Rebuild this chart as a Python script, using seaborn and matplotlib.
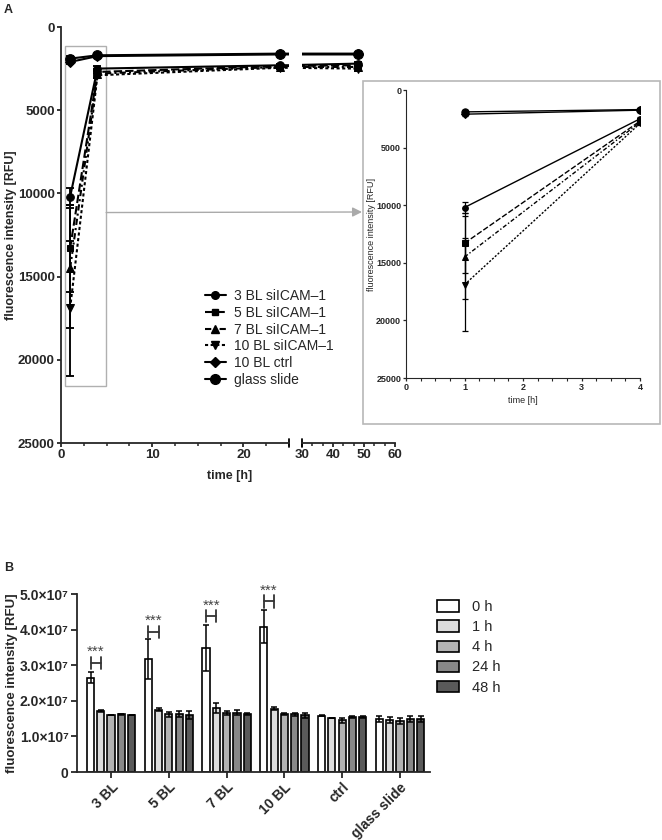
import matplotlib
matplotlib.use("Agg")
import matplotlib.pyplot as plt
import seaborn as sns
import numpy as np
import pandas as pd
from matplotlib.patches import Rectangle, Patch, ConnectionPatch
from matplotlib.lines import Line2D
from matplotlib.ticker import MultipleLocator, FixedLocator

sns.set_style("ticks")
plt.rcParams['font.family'] = ['Liberation Sans', 'DejaVu Sans']

# ---- panel A data (RFU, y axis inverted) ----
times = [1, 4, 24, 48]
series_names = ["3 BL siICAM\u20131", "5 BL siICAM\u20131", "7 BL siICAM\u20131",
                "10 BL siICAM\u20131", "10 BL ctrl", "glass slide"]
rfu_3bl = [10200, 2500, 2300, 2200]
rfu_5bl = [13300, 2700, 2350, 2300]
rfu_7bl = [14500, 2800, 2400, 2400]
rfu_10bl = [16900, 2900, 2450, 2500]
rfu_ctrl = [2100, 1750, 1650, 1650]
rfu_glass = [1900, 1700, 1600, 1600]
sd_3bl = [500, 150, 100, 100]
sd_5bl = [2600, 150, 100, 100]
sd_7bl = [3600, 150, 100, 100]
sd_10bl = [4050, 150, 100, 150]
sd_ctrl = [150, 80, 50, 50]
sd_glass = [150, 80, 50, 50]

# ---- panel B data (x 1e7 RFU) ----
groups = ["3 BL", "5 BL", "7 BL", "10 BL", "ctrl", "glass slide"]
time_labels = ["0 h", "1 h", "4 h", "24 h", "48 h"]
bar_colors = ["#ffffff", "#dcdcdc", "#b3b3b3", "#888888", "#5a5a5a"]
vals_0h = [2.65, 3.18, 3.49, 4.08, 1.58, 1.48]
vals_1h = [1.72, 1.75, 1.80, 1.78, 1.52, 1.47]
vals_4h = [1.60, 1.62, 1.65, 1.62, 1.45, 1.44]
vals_24h = [1.62, 1.62, 1.67, 1.62, 1.55, 1.49]
vals_48h = [1.60, 1.60, 1.63, 1.60, 1.55, 1.49]
err_0h = [0.15, 0.57, 0.65, 0.47, 0.01, 0.08]
err_1h = [0.03, 0.05, 0.14, 0.05, 0.01, 0.08]
err_4h = [0.01, 0.07, 0.06, 0.03, 0.07, 0.08]
err_24h = [0.01, 0.08, 0.07, 0.05, 0.02, 0.08]
err_48h = [0.01, 0.10, 0.03, 0.07, 0.02, 0.08]
sig_levels = [3.07, 3.94, 4.37, 4.79]   # bracket heights for 0 h vs 1 h

fig = plt.figure(figsize=(6.62, 8.4), dpi=100)

def px(l, t, r, b):
    return [l / 662, 1 - b / 840, (r - l) / 662, (b - t) / 840]

ax1 = fig.add_axes(px(61, 27, 289, 443))
ax2 = fig.add_axes(px(302, 27, 395, 443), sharey=ax1)
axin = fig.add_axes(px(406, 90, 640, 378))
axb = fig.add_axes(px(77, 594, 430, 772))
for a in (ax1, ax2, axin, axb):
    a.set_facecolor("none")

line_specs = [
    (rfu_3bl, sd_3bl, "o", "-", 5.5),
    (rfu_5bl, sd_5bl, "s", (0, (4, 1.5)), 5),
    (rfu_7bl, sd_7bl, "^", (0, (3, 1.5, 1, 1.5)), 5.5),
    (rfu_10bl, sd_10bl, "v", (0, (1.5, 1.2)), 5.5),
    (rfu_ctrl, sd_ctrl, "D", "-", 5),
    (rfu_glass, sd_glass, "o", "-", 7),
]

def draw_lines(ax, n, lw, scale):
    for vals, sds, mk, ls, ms in line_specs:
        sns.lineplot(x=times[:n], y=vals[:n], ax=ax, color="black", marker=mk,
                     markersize=ms * scale, markeredgecolor="black", linewidth=lw,
                     linestyle=ls, legend=False)
        ax.errorbar(times[:n], vals[:n], yerr=sds[:n], fmt="none", ecolor="black",
                    elinewidth=lw * 0.9, capsize=3 * scale, capthick=lw * 0.9)

draw_lines(ax1, 4, 1.5, 1.0)
draw_lines(ax2, 4, 1.5, 1.0)
draw_lines(axin, 2, 1.0, 0.75)

ax1.set_xlim(0, 25)
ax2.set_xlim(30, 60)
ax1.set_ylim(25000, 0)
ax1.yaxis.set_major_locator(MultipleLocator(5000))
ax1.xaxis.set_major_locator(FixedLocator([0, 10, 20]))
ax1.xaxis.set_minor_locator(MultipleLocator(2.5))
ax2.xaxis.set_major_locator(FixedLocator([30, 40, 50, 60]))
ax2.xaxis.set_minor_locator(MultipleLocator(10 / 3))
for a in (ax1, ax2):
    a.set_xlabel("")
    a.set_ylabel("")
    a.spines["top"].set_visible(False)
    a.spines["right"].set_visible(False)
    for s in a.spines.values():
        s.set_linewidth(1.3)
    a.tick_params(which="major", length=3, width=1.3, labelsize=9.5, pad=1.5)
    a.tick_params(which="minor", length=2.5, width=1.1)
    for lab in a.get_xticklabels() + a.get_yticklabels():
        lab.set_fontweight("bold")
ax2.spines["left"].set_visible(False)
ax2.tick_params(axis="y", left=False, labelleft=False)
ax1.plot([25, 25], [-0.01, 0.01], transform=ax1.get_xaxis_transform(),
         clip_on=False, color="black", lw=1.3)
ax2.plot([30, 30], [-0.01, 0.01], transform=ax2.get_xaxis_transform(),
         clip_on=False, color="black", lw=1.3)

fig.text(11 / 662, 1 - 235 / 840, "fluorescence intensity [RFU]", rotation=90,
         ha="center", va="center", fontsize=9, fontweight="bold")
fig.text(230 / 662, 1 - 476 / 840, "time [h]", ha="center", va="center",
         fontsize=9, fontweight="bold")
fig.text(4 / 662, 1 - 10 / 840, "A", fontsize=9, fontweight="bold", va="center")
fig.text(4 / 662, 1 - 568 / 840, "B", fontsize=9, fontweight="bold", va="center")

# zoom box and arrow
ax1.add_patch(Rectangle((0.45, 1150), 4.5, 20450, fill=False, ec="#b0b0b0",
                        lw=1, clip_on=False, zorder=0))
arrow = ConnectionPatch(xyA=(4.95, 11150), coordsA=ax1.transData,
                        xyB=(362 / 662, 1 - 212 / 840), coordsB=fig.transFigure,
                        arrowstyle="-|>", color="#aaaaaa", lw=1, mutation_scale=14)
fig.add_artist(arrow)
fig.add_artist(Rectangle((363 / 662, 1 - 424 / 840), (660 - 363) / 662,
                         (424 - 81) / 840, transform=fig.transFigure, fill=False,
                         ec="#b8b8b8", lw=1.2))

legend_a = [Line2D([], [], color="black", marker=s[2], linestyle=s[3], lw=1.5,
                   markersize=s[4]) for s in line_specs]
fig.legend(legend_a, series_names, loc="upper left",
           bbox_to_anchor=(205 / 662, 1 - 289 / 840), frameon=False, fontsize=10,
           handlelength=1.5, labelspacing=0.2, handletextpad=0.6,
           borderaxespad=0, borderpad=0)

# inset
axin.set_xlim(0, 4)
axin.set_ylim(25000, 0)
axin.xaxis.set_major_locator(MultipleLocator(1))
axin.xaxis.set_minor_locator(MultipleLocator(0.25))
axin.yaxis.set_major_locator(MultipleLocator(5000))
axin.spines["top"].set_visible(False)
axin.spines["right"].set_visible(False)
axin.tick_params(which="major", length=2.5, width=0.9, labelsize=6.5, pad=1)
axin.tick_params(which="minor", length=2, width=0.8)
for lab in axin.get_xticklabels() + axin.get_yticklabels():
    lab.set_fontweight("bold")
axin.set_xlabel("time [h]", fontsize=6.5, labelpad=3)
axin.set_ylabel("")
fig.text(371 / 662, 1 - 234 / 840, "fluorescence intensity [RFU]", rotation=90,
         ha="center", va="center", fontsize=6.5)

# ---- panel B ----
b_vals = [vals_0h, vals_1h, vals_4h, vals_24h, vals_48h]
b_errs = [err_0h, err_1h, err_4h, err_24h, err_48h]
df_b = pd.DataFrame({
    "group": groups * len(time_labels),
    "time": np.repeat(time_labels, len(groups)),
    "value": np.concatenate(b_vals) * 1e7,
})
sns.barplot(data=df_b, x="group", y="value", hue="time", palette=bar_colors,
            edgecolor="black", linewidth=1.2, width=0.89, gap=0.3,
            errorbar=None, ax=axb, legend=False)
centers = []
for cont, errs in zip(axb.containers, b_errs):
    xs = [p.get_x() + p.get_width() / 2 for p in cont.patches]
    ys = [p.get_height() for p in cont.patches]
    centers.append(xs)
    axb.errorbar(xs, ys, yerr=np.array(errs) * 1e7, fmt="none", ecolor="black",
                 elinewidth=1.1, capsize=2.5, capthick=1.1)
for i, lvl in enumerate(sig_levels):
    x0, x1 = centers[0][i], centers[1][i]
    y = lvl * 1e7
    axb.plot([x0, x1], [y, y], color="#333333", lw=1.3)
    axb.plot([x0, x0], [y - 0.17e7, y + 0.17e7], color="#333333", lw=1.3)
    axb.plot([x1, x1], [y - 0.17e7, y + 0.17e7], color="#333333", lw=1.3)
    axb.text((x0 + x1) / 2, y + 0.1e7, "***", ha="center", va="bottom",
             fontsize=11, color="#444444")

axb.set_xlim(-0.59, 5.52)
axb.set_ylim(0, 5e7)
axb.yaxis.set_major_locator(FixedLocator([0, 1e7, 2e7, 3e7, 4e7, 5e7]))
axb.set_yticklabels(["0", "1.0\u00d710\u2077", "2.0\u00d710\u2077", "3.0\u00d710\u2077",
                     "4.0\u00d710\u2077", "5.0\u00d710\u2077"])
axb.set_xticks(range(len(groups)))
axb.set_xticklabels(groups, rotation=45, ha="right", rotation_mode="anchor")
axb.spines["top"].set_visible(False)
axb.spines["right"].set_visible(False)
for s in axb.spines.values():
    s.set_linewidth(1.3)
axb.tick_params(length=4, width=1.3, labelsize=10, pad=2)
for lab in axb.get_xticklabels() + axb.get_yticklabels():
    lab.set_fontweight("bold")
axb.set_xlabel("")
axb.set_ylabel("")
fig.text(12 / 662, 1 - 683 / 840, "fluorescence intensity [RFU]", rotation=90,
         ha="center", va="center", fontsize=9.5, fontweight="bold")

legend_b = [Patch(facecolor=c, edgecolor="black", linewidth=1.2) for c in bar_colors]
fig.legend(legend_b, time_labels, loc="upper left",
           bbox_to_anchor=(437 / 662, 1 - 600 / 840), frameon=False, fontsize=10.5,
           handlelength=1.5, handleheight=0.8, labelspacing=0.42,
           handletextpad=0.9, borderaxespad=0, borderpad=0)

fig.savefig("out.png", dpi=100)
